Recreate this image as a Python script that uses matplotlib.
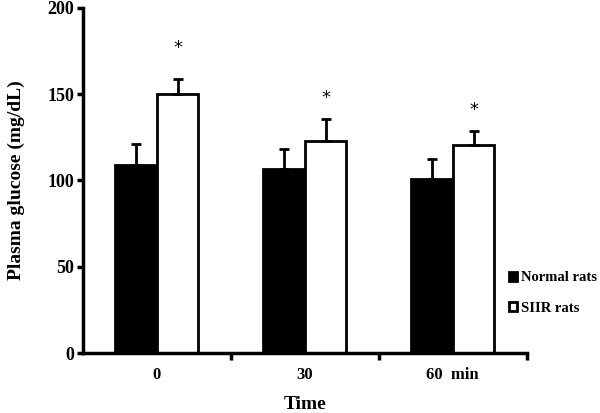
import numpy as np
import matplotlib.pyplot as plt

# data
times = ['0', '30', '60  min']
normal = [109, 106.5, 101]
normal_err = [12, 12, 11.5]
siir = [150, 123, 120.5]
siir_err = [9, 12.5, 8]
stars = [177, 148, 141]

plt.rcParams['font.family'] = ['Liberation Serif', 'DejaVu Serif']
plt.rcParams['font.weight'] = 'bold'

fig = plt.figure(figsize=(6, 4.13), dpi=100)
ax = fig.add_axes([0.138, 0.145, 0.74, 0.836])

x = np.arange(len(times))
w = 0.28
ax.bar(x - w / 2, normal, w, color='black', edgecolor='black', linewidth=2,
       label='Normal rats')
ax.bar(x + w / 2, siir, w, color='white', edgecolor='black', linewidth=2,
       label='SIIR rats')
ax.errorbar(x - w / 2, normal, yerr=[np.zeros(3), normal_err], fmt='none',
            ecolor='black', elinewidth=2, capsize=3.5, capthick=2)
ax.errorbar(x + w / 2, siir, yerr=[np.zeros(3), siir_err], fmt='none',
            ecolor='black', elinewidth=2, capsize=3.5, capthick=2)
for xi, s in zip(x, stars):
    ax.text(xi + w / 2, s, '*', ha='center', va='center', fontsize=13,
            fontweight='normal', family='DejaVu Sans')

ax.set_xlim(-0.5, 2.5)
ax.set_ylim(0, 200)
ax.set_yticks([0, 50, 100, 150, 200])
ax.set_xticks(x)
ax.set_xticklabels(times)
ax.set_xticks([0.5, 1.5, 2.5], minor=True)
ax.tick_params(axis='x', which='major', length=0, pad=10, labelsize=12)
ax.tick_params(axis='x', which='minor', length=5, width=2.5)
ax.tick_params(axis='y', length=4, width=2.5, labelsize=13, pad=2)
for s in ['top', 'right']:
    ax.spines[s].set_visible(False)
for s in ['left', 'bottom']:
    ax.spines[s].set_linewidth(2.5)

ax.set_ylabel('Plasma glucose (mg/dL)', fontsize=14, fontweight='bold',
              labelpad=16)
ax.set_xlabel('Time', fontsize=14, fontweight='bold', labelpad=9)

leg = ax.legend(loc='center left', bbox_to_anchor=(0.96, 0.174), frameon=False,
                fontsize=10.5, handlelength=0.55, handleheight=0.55,
                handletextpad=0.25, labelspacing=1.2, borderpad=0,
                borderaxespad=0)

fig.savefig('out.png', dpi=100)
